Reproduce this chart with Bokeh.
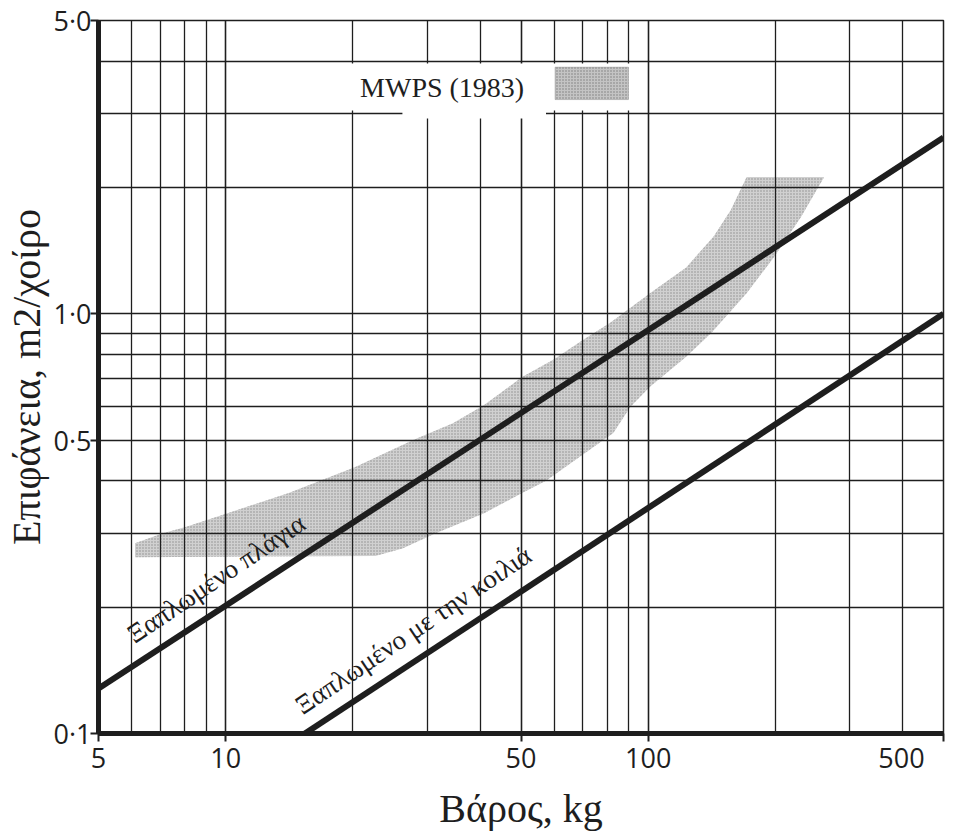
from bokeh.plotting import figure
from bokeh.models import FixedTicker, Label, BoxAnnotation, Range1d
from bokeh.embed import file_html
from bokeh.resources import INLINE

# ---- data ----
x_major = [5, 10, 50, 100, 500]
x_minor = [6, 7, 8, 9, 20, 30, 40, 60, 70, 80, 90, 200, 300, 400]
x_labels = {500: "500\u2007\u2007"}
y_major = [0.1, 0.5, 1.0, 5.0]
y_minor = [0.2, 0.3, 0.4, 0.6, 0.7, 0.8, 0.9, 2, 3, 4]
y_labels = {0.1: "0\u00b71", 0.5: "0\u00b75", 1.0: "1\u00b70", 5.0: "5\u00b70"}

# MWPS (1983) band outline: upper edge left->right, then lower edge right->left
band_upper_x = [6.1, 7.1, 8.0, 10.1, 14.1, 20.2, 27.7, 34.5, 40.9, 50.3, 59.6, 70.2, 81.3, 101, 123, 143, 157, 171, 261]
band_upper_y = [0.284, 0.300, 0.310, 0.335, 0.374, 0.431, 0.500, 0.549, 0.606, 0.707, 0.777, 0.867, 0.952, 1.12, 1.29, 1.53, 1.77, 2.12, 2.12]
band_lower_x = [251, 230, 199, 171, 141, 123, 101, 90.7, 82.7, 57.3, 50.3, 40.9, 31.4, 26.2, 22.6, 6.1]
band_lower_y = [1.98, 1.70, 1.37, 1.12, 0.90, 0.79, 0.67, 0.60, 0.52, 0.40, 0.374, 0.335, 0.300, 0.276, 0.265, 0.263]

# Lying laterally / lying on the belly
lateral_x = [5, 500]
lateral_y = [0.128, 2.63]
sternal_x = [15.4, 500]
sternal_y = [0.1, 1.0]

lateral_label = "Ξαπλωμένο πλάγια"
sternal_label = "Ξαπλωμένο με την κοιλιά"
legend_label = "MWPS (1983)"
x_title = "Βάρος, kg"
y_title = "Επιφάνεια, m2/χοίρο"

INK = "#1e1e1e"

p = figure(width=955, height=835, x_axis_type="log", y_axis_type="log",
           x_range=Range1d(5, 500), y_range=Range1d(0.1, 5.0),
           output_backend="svg", toolbar_location=None,
           min_border_left=97, min_border_top=20, min_border_right=12, min_border_bottom=102)
p.background_fill_color = "white"
p.border_fill_color = "white"
p.outline_line_color = INK
p.outline_line_width = 1.5

# ticks / grid
p.xaxis.ticker = FixedTicker(ticks=x_major, minor_ticks=x_minor)
p.yaxis.ticker = FixedTicker(ticks=y_major, minor_ticks=y_minor)
for g in (p.xgrid, p.ygrid):
    g.grid_line_color = INK
    g.grid_line_width = 1.6
    g.grid_line_alpha = 1
    g.minor_grid_line_color = INK
    g.minor_grid_line_width = 1.3
    g.minor_grid_line_alpha = 1

for ax in (p.xaxis, p.yaxis):
    ax.axis_line_color = INK
    ax.axis_line_width = 5
    ax.major_tick_line_color = INK
    ax.major_tick_line_width = 2
    ax.major_tick_out = 8
    ax.major_tick_in = 0
    ax.minor_tick_line_color = None
    ax.major_label_text_font = "Open Sans"
    ax.major_label_text_font_size = "27px"
    ax.major_label_text_color = INK
    ax.axis_label_text_font = "Liberation Serif"
    ax.axis_label_text_font_size = "40px"
    ax.axis_label_text_font_style = "normal"
    ax.axis_label_text_color = INK

p.xaxis.major_label_overrides = x_labels
p.yaxis.major_label_overrides = y_labels
p.xaxis.major_label_standoff = -3
p.yaxis.major_label_standoff = -1
p.xaxis.axis_label = x_title
p.yaxis.axis_label = y_title
p.xaxis.axis_label_standoff = 7
p.yaxis.axis_label_standoff = 2

# band (below the grid so the grid shows through)
p.patch(band_upper_x + band_lower_x, band_upper_y + band_lower_y,
        fill_color="#d0d0d0", line_color=None,
        hatch_pattern="dot", hatch_color="#8c8c8c", hatch_scale=3, hatch_weight=1,
        level="image")

# the two lines
p.line(lateral_x, lateral_y, line_color=INK, line_width=6)
p.line(sternal_x, sternal_y, line_color=INK, line_width=6)

# rotated line labels
p.add_layout(Label(x=5.93, y=0.170, text=lateral_label, angle=34, angle_units="deg",
                   text_font="Liberation Serif", text_font_size="27px", text_color=INK,
                   text_baseline="alphabetic", text_align="left"))
p.add_layout(Label(x=14.8, y=0.115, text=sternal_label, angle=34, angle_units="deg",
                   text_font="Liberation Serif", text_font_size="27px", text_color=INK,
                   text_baseline="alphabetic", text_align="left"))

# legend: white pasted box, text and swatch
p.add_layout(BoxAnnotation(left=19.4, right=93.8, bottom=3.05, top=3.95,
                           fill_color="white", fill_alpha=1, line_color=None))
p.add_layout(BoxAnnotation(left=26.2, right=57.3, bottom=2.92, top=3.1,
                           fill_color="white", fill_alpha=1, line_color=None))
p.add_layout(BoxAnnotation(left=60.2, right=89.8, bottom=3.24, top=3.87,
                           fill_color="#c4c4c4", fill_alpha=1, line_color="#555555", line_width=1,
                           hatch_pattern="dot", hatch_color="#7a7a7a", hatch_scale=3, hatch_weight=1))
p.add_layout(Label(x=20.8, y=3.46, text=legend_label, text_baseline="middle", text_align="left",
                   text_font="Liberation Serif", text_font_size="28px", text_color=INK))

open("out.html", "w").write(file_html(p, INLINE))
